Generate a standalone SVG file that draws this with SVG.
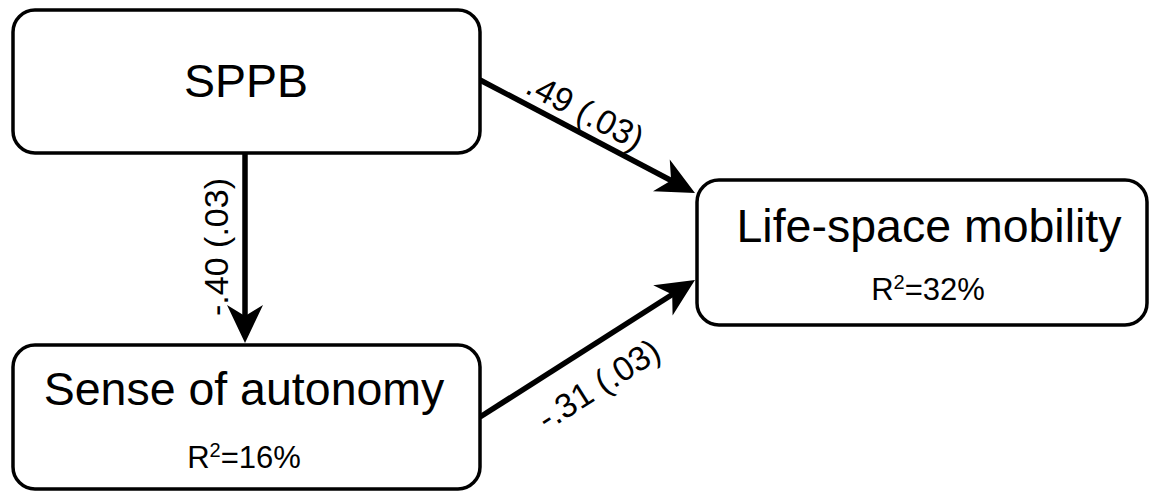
<svg xmlns="http://www.w3.org/2000/svg" width="1150" height="495" viewBox="0 0 1150 495">
<style>
.box{fill:#fff;stroke:#000;stroke-width:3.5}
.t{font-family:"Liberation Sans",Arial,sans-serif;fill:#000;text-anchor:middle}
.big{font-size:46.5px}
.r2{font-size:31px}
.sup{font-size:20px}
.lab{font-size:34px}
.edge{stroke:#000;stroke-width:5.5;fill:none}
</style>
<defs>
<marker id="ah" markerUnits="userSpaceOnUse" orient="auto" refX="0" refY="0" markerWidth="60" markerHeight="60" overflow="visible">
<path d="M-18,-18 L20,0 L-18,18 L-7,0 Z" fill="#000"/>
</marker>
</defs>
<rect width="1150" height="495" fill="#fff"/>
<g id="connectors">
<line class="edge" x1="480" y1="80" x2="677.3" y2="183.7" marker-end="url(#ah)"/>
<line class="edge" x1="480" y1="417" x2="678.1" y2="290.7" marker-end="url(#ah)"/>
<line class="edge" x1="245" y1="153" x2="245" y2="323" marker-end="url(#ah)"/>
<text class="t lab" transform="translate(585,112) rotate(27.7)" y="11">.49 (.03)</text>
<text class="t lab" transform="translate(599,385) rotate(-32.5)" y="11">-.31 (.03)</text>
<text class="t lab" transform="translate(217,247) rotate(-90)" y="11">-.40 (.03)</text>
</g>
<g id="sppb">
<rect class="box" x="13" y="10" width="467" height="143" rx="22"/>
<text class="t big" x="246" y="97">SPPB</text>
</g>
<g id="life-space">
<rect class="box" x="697" y="180" width="450" height="145" rx="22"/>
<text class="t big" x="929" y="242">Life-space mobility</text>
<text class="t r2" x="928" y="300">R<tspan class="sup" dy="-11">2</tspan><tspan dy="11">=32%</tspan></text>
</g>
<g id="autonomy">
<rect class="box" x="13" y="345" width="467" height="144" rx="22"/>
<text class="t big" x="244" y="405">Sense of autonomy</text>
<text class="t r2" x="244" y="468">R<tspan class="sup" dy="-11">2</tspan><tspan dy="11">=16%</tspan></text>
</g>
</svg>
